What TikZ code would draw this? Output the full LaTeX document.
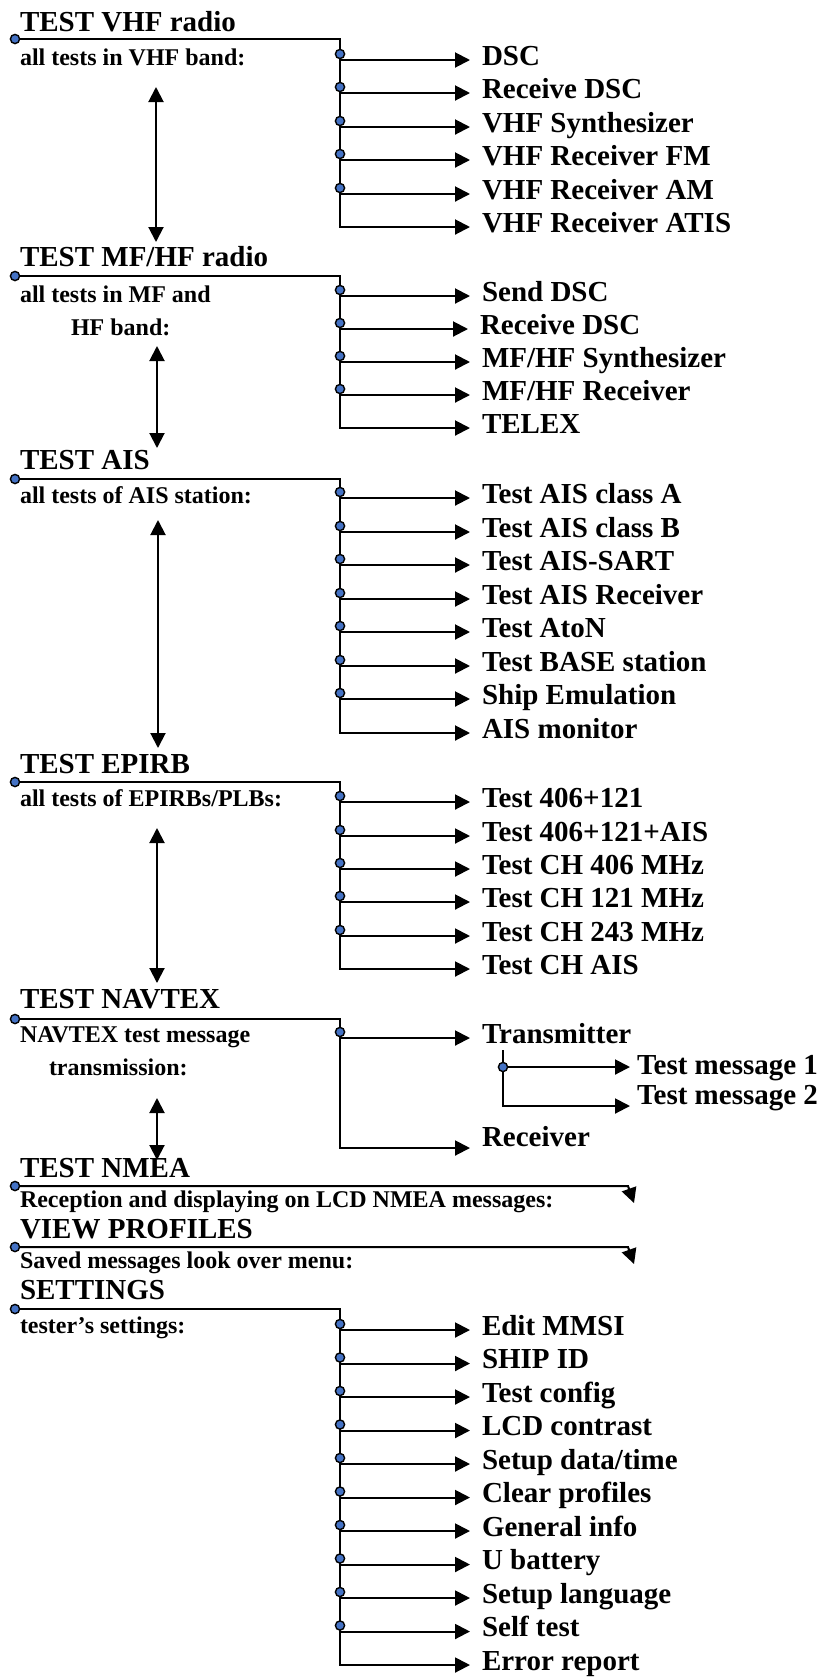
\documentclass[tikz,border=0pt]{standalone}
\usepackage{fontspec}
\setmainfont{Liberation Serif}
\usetikzlibrary{arrows.meta}
\definecolor{dotcol}{RGB}{68,114,196}

\begin{document}
\begin{tikzpicture}[x=0.5pt,y=-0.5pt,line width=1pt,>={Triangle[length=7.5pt,width=7.5pt]},
  head/.style={anchor=base west,inner sep=0pt,font=\fontsize{14.5}{17}\selectfont\bfseries},
  note/.style={anchor=base west,inner sep=0pt,font=\fontsize{12}{14}\selectfont\bfseries},
  item/.style={anchor=base west,inner xsep=5.5pt,inner ysep=0pt,font=\fontsize{14.5}{17}\selectfont\bfseries},
  knot/.style={fill=dotcol,draw=black,line width=0.7pt}]
\useasboundingbox (0,0) rectangle (821,1677);

% ---- TEST VHF radio ----
\node[head] (vhf) at (19,31) {TEST VHF radio};
\node[note] (vhfn) at (19,65) {all tests in VHF band:};
\coordinate (vhf0) at (15,39);
\coordinate (vhf1) at (340,60);  \node[item] (vhfa) at (470,65)  {DSC};
\coordinate (vhf2) at (340,93);  \node[item] (vhfb) at (470,98)  {Receive DSC};
\coordinate (vhf3) at (340,127); \node[item] (vhfc) at (470,132) {VHF Synthesizer};
\coordinate (vhf4) at (340,160); \node[item] (vhfd) at (470,165) {VHF Receiver FM};
\coordinate (vhf5) at (340,194); \node[item] (vhfe) at (470,199) {VHF Receiver AM};
\coordinate (vhf6) at (340,227); \node[item] (vhff) at (470,232) {VHF Receiver ATIS};
\draw[->] (vhf0) -| (vhf6) -- (vhf6 -| vhff.west);
\draw[->] (vhf1) -- (vhf1 -| vhfa.west); \draw[->] (vhf2) -- (vhf2 -| vhfb.west);
\draw[->] (vhf3) -- (vhf3 -| vhfc.west); \draw[->] (vhf4) -- (vhf4 -| vhfd.west);
\draw[->] (vhf5) -- (vhf5 -| vhfe.west);
\filldraw[knot] (vhf0) circle (2.3pt) ([yshift=3pt]vhf1) circle (2.3pt) ([yshift=3pt]vhf2) circle (2.3pt)
  ([yshift=3pt]vhf3) circle (2.3pt) ([yshift=3pt]vhf4) circle (2.3pt) ([yshift=3pt]vhf5) circle (2.3pt);
\coordinate (vhfup) at (156,87); \coordinate (vhfdn) at (156,242);
\draw[<->] (vhfup) -- (vhfdn);

% ---- TEST MF/HF radio ----
\node[head] (mf) at (19,266) {TEST MF/HF radio};
\node[note] (mfn) at (19,302) {all tests in MF and};
\node[note] (mfm) at (70,335) {HF band:};
\coordinate (mf0) at (15,276);
\coordinate (mf1) at (340,296); \node[item] (mfa) at (470,301) {Send DSC};
\coordinate (mf2) at (340,329); \node[item] (mfb) at (468,334) {Receive DSC};
\coordinate (mf3) at (340,362); \node[item] (mfc) at (470,367) {MF/HF Synthesizer};
\coordinate (mf4) at (340,395); \node[item] (mfd) at (470,400) {MF/HF Receiver};
\coordinate (mf5) at (340,428); \node[item] (mfe) at (470,433) {TELEX};
\draw[->] (mf0) -| (mf5) -- (mf5 -| mfe.west);
\draw[->] (mf1) -- (mf1 -| mfa.west); \draw[->] (mf2) -- (mf2 -| mfb.west);
\draw[->] (mf3) -- (mf3 -| mfc.west); \draw[->] (mf4) -- (mf4 -| mfd.west);
\filldraw[knot] (mf0) circle (2.3pt) ([yshift=3pt]mf1) circle (2.3pt) ([yshift=3pt]mf2) circle (2.3pt)
  ([yshift=3pt]mf3) circle (2.3pt) ([yshift=3pt]mf4) circle (2.3pt);
\coordinate (mfup) at (157,346); \coordinate (mfdn) at (157,448);
\draw[<->] (mfup) -- (mfdn);

% ---- TEST AIS ----
\node[head] (ais) at (19,469) {TEST AIS};
\node[note] (aisn) at (19,503) {all tests of AIS station:};
\coordinate (ais0) at (15,479);
\coordinate (ais1) at (340,498); \node[item] (aisa) at (470,503) {Test AIS class A};
\coordinate (ais2) at (340,532); \node[item] (aisb) at (470,537) {Test AIS class B};
\coordinate (ais3) at (340,565); \node[item] (aisc) at (470,570) {Test AIS-SART};
\coordinate (ais4) at (340,599); \node[item] (aisd) at (470,604) {Test AIS Receiver};
\coordinate (ais5) at (340,632); \node[item] (aise) at (470,637) {Test AtoN};
\coordinate (ais6) at (340,666); \node[item] (aisf) at (470,671) {Test BASE station};
\coordinate (ais7) at (340,699); \node[item] (aisg) at (470,704) {Ship Emulation};
\coordinate (ais8) at (340,733); \node[item] (aish) at (470,738) {AIS monitor};
\draw[->] (ais0) -| (ais8) -- (ais8 -| aish.west);
\draw[->] (ais1) -- (ais1 -| aisa.west); \draw[->] (ais2) -- (ais2 -| aisb.west);
\draw[->] (ais3) -- (ais3 -| aisc.west); \draw[->] (ais4) -- (ais4 -| aisd.west);
\draw[->] (ais5) -- (ais5 -| aise.west); \draw[->] (ais6) -- (ais6 -| aisf.west);
\draw[->] (ais7) -- (ais7 -| aisg.west);
\filldraw[knot] (ais0) circle (2.3pt) ([yshift=3pt]ais1) circle (2.3pt) ([yshift=3pt]ais2) circle (2.3pt)
  ([yshift=3pt]ais3) circle (2.3pt) ([yshift=3pt]ais4) circle (2.3pt) ([yshift=3pt]ais5) circle (2.3pt)
  ([yshift=3pt]ais6) circle (2.3pt) ([yshift=3pt]ais7) circle (2.3pt);
\coordinate (aisup) at (158,520); \coordinate (aisdn) at (158,748);
\draw[<->] (aisup) -- (aisdn);

% ---- TEST EPIRB ----
\node[head] (epi) at (19,773) {TEST EPIRB};
\node[note] (epin) at (19,806) {all tests of EPIRBs/PLBs:};
\coordinate (epi0) at (15,782);
\coordinate (epi1) at (340,802); \node[item] (epia) at (470,807) {Test 406+121};
\coordinate (epi2) at (340,836); \node[item] (epib) at (470,841) {Test 406+121+AIS};
\coordinate (epi3) at (340,869); \node[item] (epic) at (470,874) {Test CH 406 MHz};
\coordinate (epi4) at (340,902); \node[item] (epid) at (470,907) {Test CH 121 MHz};
\coordinate (epi5) at (340,936); \node[item] (epie) at (470,941) {Test CH 243 MHz};
\coordinate (epi6) at (340,969); \node[item] (epif) at (470,974) {Test CH AIS};
\draw[->] (epi0) -| (epi6) -- (epi6 -| epif.west);
\draw[->] (epi1) -- (epi1 -| epia.west); \draw[->] (epi2) -- (epi2 -| epib.west);
\draw[->] (epi3) -- (epi3 -| epic.west); \draw[->] (epi4) -- (epi4 -| epid.west);
\draw[->] (epi5) -- (epi5 -| epie.west);
\filldraw[knot] (epi0) circle (2.3pt) ([yshift=3pt]epi1) circle (2.3pt) ([yshift=3pt]epi2) circle (2.3pt)
  ([yshift=3pt]epi3) circle (2.3pt) ([yshift=3pt]epi4) circle (2.3pt) ([yshift=3pt]epi5) circle (2.3pt);
\coordinate (epiup) at (157,828); \coordinate (epidn) at (157,983);
\draw[<->] (epiup) -- (epidn);

% ---- TEST NAVTEX ----
\node[head] (nav) at (19,1008) {TEST NAVTEX};
\node[note] (navn) at (19,1042) {NAVTEX test message};
\node[note] (navm) at (48,1075) {transmission:};
\coordinate (nav0) at (15,1019);
\coordinate (nav1) at (340,1038); \node[item] (tx) at (470,1043) {Transmitter};
\coordinate (nav2) at (340,1148); \node[item] (rx) at (470,1146) {Receiver};
\draw[->] (nav0) -| (nav2) -- (nav2 -| rx.west);
\draw[->] (nav1) -- (nav1 -| tx.west);
% transmitter sub-menu
\coordinate (tx0) at (503,1050);
\coordinate (tx1) at (503,1067); \node[item,inner xsep=3pt] (txa) at (630,1074) {Test message 1};
\coordinate (tx2) at (503,1106); \node[item,inner xsep=3pt] (txb) at (630,1104) {Test message 2};
\draw[->] (tx0) -- (tx2) -- (tx2 -| txb.west);
\draw[->] (tx1) -- (tx1 -| txa.west);
\filldraw[knot] (nav0) circle (2.3pt) ([yshift=3pt]nav1) circle (2.3pt) (tx1) circle (2.3pt);
\coordinate (navup) at (157,1098); \coordinate (navdn) at (157,1160);
\draw[<->] (navup) -- (navdn);

% ---- TEST NMEA ----
\node[head] (nmea) at (19,1177) {TEST NMEA};
\node[note] (nmean) at (19,1207) {Reception and displaying on LCD NMEA messages:};
\coordinate (nmea0) at (15,1186); \coordinate (nmea1) at (628,1186); \coordinate (nmea2) at (634,1203);
\draw[->] (nmea0) -- (nmea1) -- (nmea2);
\filldraw[knot] (nmea0) circle (2.3pt);

% ---- VIEW PROFILES ----
\node[head] (view) at (19,1238) {VIEW PROFILES};
\node[note] (viewn) at (19,1268) {Saved messages look over menu:};
\coordinate (view0) at (15,1247); \coordinate (view1) at (628,1247); \coordinate (view2) at (634,1264);
\draw[->] (view0) -- (view1) -- (view2);
\filldraw[knot] (view0) circle (2.3pt);

% ---- SETTINGS ----
\node[head] (set) at (19,1299) {SETTINGS};
\node[note] (setn) at (19,1333) {tester's settings:};
\coordinate (set0) at (15,1309);
\coordinate (set1) at (340,1330);    \node[item] (seta) at (470,1335)   {Edit MMSI};
\coordinate (set2) at (340,1363.5);  \node[item] (setb) at (470,1368.5) {SHIP ID};
\coordinate (set3) at (340,1397);    \node[item] (setc) at (470,1402)   {Test config};
\coordinate (set4) at (340,1430.5);  \node[item] (setd) at (470,1435.5) {LCD contrast};
\coordinate (set5) at (340,1464);    \node[item] (sete) at (470,1469)   {Setup data/time};
\coordinate (set6) at (340,1497.5);  \node[item] (setf) at (470,1502.5) {Clear profiles};
\coordinate (set7) at (340,1531);    \node[item] (setg) at (470,1536)   {General info};
\coordinate (set8) at (340,1564.5);  \node[item] (seth) at (470,1569.5) {U battery};
\coordinate (set9) at (340,1598);    \node[item] (seti) at (470,1603)   {Setup language};
\coordinate (set10) at (340,1631.5); \node[item] (setj) at (470,1636.5) {Self test};
\coordinate (set11) at (340,1665);   \node[item] (setk) at (470,1670)   {Error report};
\draw[->] (set0) -| (set11) -- (set11 -| setk.west);
\draw[->] (set1) -- (set1 -| seta.west); \draw[->] (set2) -- (set2 -| setb.west);
\draw[->] (set3) -- (set3 -| setc.west); \draw[->] (set4) -- (set4 -| setd.west);
\draw[->] (set5) -- (set5 -| sete.west); \draw[->] (set6) -- (set6 -| setf.west);
\draw[->] (set7) -- (set7 -| setg.west); \draw[->] (set8) -- (set8 -| seth.west);
\draw[->] (set9) -- (set9 -| seti.west); \draw[->] (set10) -- (set10 -| setj.west);
\filldraw[knot] (set0) circle (2.3pt) ([yshift=3pt]set1) circle (2.3pt) ([yshift=3pt]set2) circle (2.3pt)
  ([yshift=3pt]set3) circle (2.3pt) ([yshift=3pt]set4) circle (2.3pt) ([yshift=3pt]set5) circle (2.3pt)
  ([yshift=3pt]set6) circle (2.3pt) ([yshift=3pt]set7) circle (2.3pt) ([yshift=3pt]set8) circle (2.3pt)
  ([yshift=3pt]set9) circle (2.3pt) ([yshift=3pt]set10) circle (2.3pt);
\end{tikzpicture}
\end{document}
